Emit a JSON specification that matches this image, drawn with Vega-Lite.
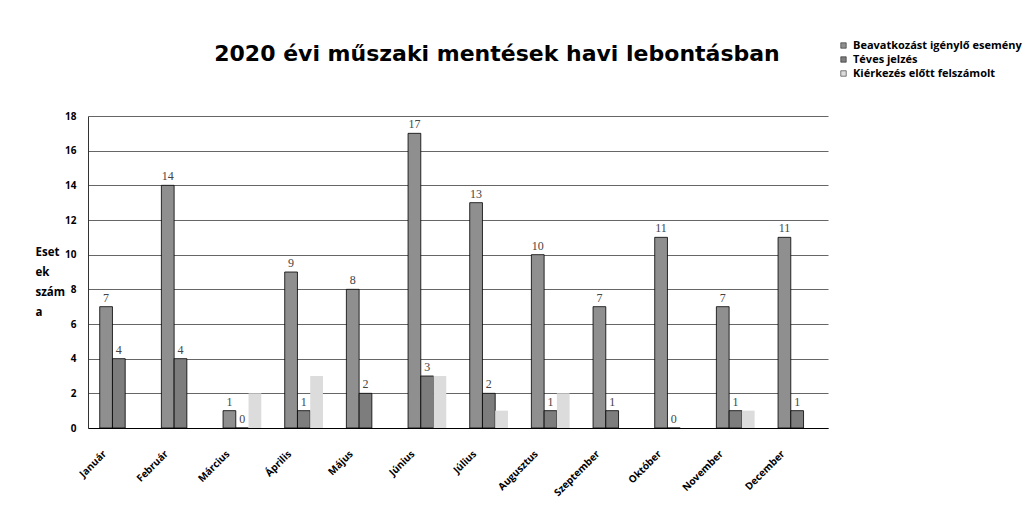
{
  "$schema": "https://vega.github.io/schema/vega-lite/v6.json",
  "autosize": {"type": "none"},
  "width": 740,
  "height": 312,
  "padding": {"left": 88, "top": 116, "right": 199, "bottom": 78},
  "background": "white",
  "title": {
    "text": "2020 évi műszaki mentések havi lebontásban",
    "font": "DejaVu Sans",
    "fontSize": 22,
    "fontWeight": "bold",
    "color": "black",
    "anchor": "middle",
    "frame": "group",
    "dx": 39,
    "offset": -26
  },
  "config": {
    "view": {"stroke": null},
    "font": "Open Sans"
  },
  "data": {
    "values": [
      {"month": "Január", "series": "Beavatkozást igénylő esemény", "value": 7},
      {"month": "Február", "series": "Beavatkozást igénylő esemény", "value": 14},
      {"month": "Március", "series": "Beavatkozást igénylő esemény", "value": 1},
      {"month": "Április", "series": "Beavatkozást igénylő esemény", "value": 9},
      {"month": "Május", "series": "Beavatkozást igénylő esemény", "value": 8},
      {"month": "Június", "series": "Beavatkozást igénylő esemény", "value": 17},
      {"month": "Július", "series": "Beavatkozást igénylő esemény", "value": 13},
      {"month": "Augusztus", "series": "Beavatkozást igénylő esemény", "value": 10},
      {"month": "Szeptember", "series": "Beavatkozást igénylő esemény", "value": 7},
      {"month": "Október", "series": "Beavatkozást igénylő esemény", "value": 11},
      {"month": "November", "series": "Beavatkozást igénylő esemény", "value": 7},
      {"month": "December", "series": "Beavatkozást igénylő esemény", "value": 11},
      {"month": "Január", "series": "Téves jelzés", "value": 4},
      {"month": "Február", "series": "Téves jelzés", "value": 4},
      {"month": "Március", "series": "Téves jelzés", "value": 0},
      {"month": "Április", "series": "Téves jelzés", "value": 1},
      {"month": "Május", "series": "Téves jelzés", "value": 2},
      {"month": "Június", "series": "Téves jelzés", "value": 3},
      {"month": "Július", "series": "Téves jelzés", "value": 2},
      {"month": "Augusztus", "series": "Téves jelzés", "value": 1},
      {"month": "Szeptember", "series": "Téves jelzés", "value": 1},
      {"month": "Október", "series": "Téves jelzés", "value": 0},
      {"month": "November", "series": "Téves jelzés", "value": 1},
      {"month": "December", "series": "Téves jelzés", "value": 1},
      {"month": "Január", "series": "Kiérkezés előtt felszámolt", "value": 0},
      {"month": "Február", "series": "Kiérkezés előtt felszámolt", "value": 0},
      {"month": "Március", "series": "Kiérkezés előtt felszámolt", "value": 2},
      {"month": "Április", "series": "Kiérkezés előtt felszámolt", "value": 3},
      {"month": "Május", "series": "Kiérkezés előtt felszámolt", "value": 0},
      {"month": "Június", "series": "Kiérkezés előtt felszámolt", "value": 3},
      {"month": "Július", "series": "Kiérkezés előtt felszámolt", "value": 1},
      {"month": "Augusztus", "series": "Kiérkezés előtt felszámolt", "value": 2},
      {"month": "Szeptember", "series": "Kiérkezés előtt felszámolt", "value": 0},
      {"month": "Október", "series": "Kiérkezés előtt felszámolt", "value": 0},
      {"month": "November", "series": "Kiérkezés előtt felszámolt", "value": 1},
      {"month": "December", "series": "Kiérkezés előtt felszámolt", "value": 0}
    ]
  },
  "encoding": {
    "x": {
      "field": "month",
      "type": "nominal",
      "scale": {
        "domain": ["Január", "Február", "Március", "Április", "Május", "Június", "Július", "Augusztus", "Szeptember", "Október", "November", "December"],
        "paddingInner": 0.38,
        "paddingOuter": 0.19
      },
      "axis": {
        "title": null,
        "labelAngle": -45,
        "labelAlign": "right",
        "labelBaseline": "middle",
        "labelFontSize": 10,
        "labelFontWeight": "bold",
        "labelColor": "black",
        "labelPadding": 24,
        "labelOffset": -14,
        "ticks": false,
        "domainColor": "black",
        "domainWidth": 1.2
      }
    },
    "xOffset": {
      "field": "series",
      "type": "nominal",
      "scale": {"domain": ["Beavatkozást igénylő esemény", "Téves jelzés", "Kiérkezés előtt felszámolt"], "paddingInner": 0}
    },
    "y": {
      "field": "value",
      "type": "quantitative",
      "scale": {"domain": [0, 18], "nice": false},
      "axis": {
        "values": [0, 2, 4, 6, 8, 10, 12, 14, 16, 18],
        "title": ["Eset", "ek", "szám", "a"],
        "titleAngle": 0,
        "titleAlign": "left",
        "titleBaseline": "top",
        "titleX": -53,
        "titleY": 130,
        "titleFontSize": 11.5,
        "titleFontWeight": "bold",
        "titleColor": "black",
        "titleLineHeight": 20,
        "labelFontSize": 10,
        "labelFontWeight": "bold",
        "labelColor": "black",
        "labelPadding": 12,
        "ticks": false,
        "domainColor": "#333",
        "gridColor": "#555",
        "gridWidth": 0.9
      }
    }
  },
  "layer": [
    {
      "mark": {"type": "bar", "stroke": "black", "strokeWidth": 0.8},
      "encoding": {
        "color": {
          "field": "series",
          "type": "nominal",
          "scale": {
            "domain": ["Beavatkozást igénylő esemény", "Téves jelzés", "Kiérkezés előtt felszámolt"],
            "range": ["#8f8f8f", "#7d7d7d", "#dcdcdc"]
          },
          "legend": {
            "orient": "none",
            "legendX": 750,
            "legendY": -76,
            "title": null,
            "symbolType": "square",
            "symbolSize": 30,
            "symbolStrokeColor": "black",
            "symbolStrokeWidth": 0.5,
            "labelFontSize": 11,
            "labelFontWeight": "bold",
            "labelColor": "black",
            "labelLimit": 300,
            "rowPadding": 2,
            "labelOffset": 4
          }
        },
        "strokeOpacity": {
          "condition": {"test": "datum.series === 'Kiérkezés előtt felszámolt'", "value": 0},
          "value": 1
        }
      }
    },
    {
      "transform": [{"filter": "datum.series !== 'Kiérkezés előtt felszámolt'"}],
      "mark": {"type": "text", "dy": -9, "font": "Liberation Serif", "fontSize": 12, "color": "#444"},
      "encoding": {
        "text": {"field": "value", "type": "quantitative"}
      }
    }
  ]
}
